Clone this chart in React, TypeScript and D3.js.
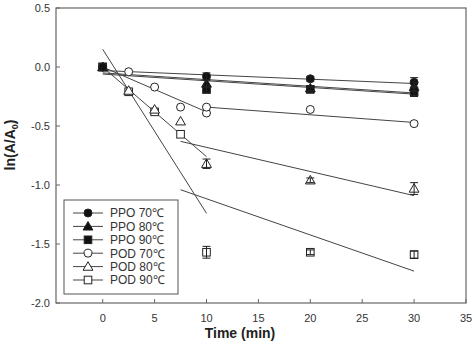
import React, { useEffect, useRef } from 'react';
import * as d3 from 'd3';

// PPO measured at 0,10,20,30 min
const ppoTime = [0, 10, 20, 30];
const ppo70 = [0, -0.08, -0.1, -0.13];
const ppo80 = [0, -0.14, -0.18, -0.17];
const ppo90 = [0, -0.19, -0.19, -0.21];
const ppoErr = [0, 0.03, 0.02, 0.04];

// POD measured more often early on
const podTime = [0, 2.5, 5, 7.5, 10, 20, 30];
const pod70 = [0, -0.04, -0.17, -0.34, -0.39, -0.36, -0.48];
const pod70Extra = { t: 10, v: -0.34 };
const pod80 = [0, -0.2, -0.36, -0.46, -0.82, -0.96, -1.03];
const pod80Err = [0, 0, 0, 0, 0.04, 0.02, 0.05];
const pod90 = [0, -0.21, -0.38, -0.57, -1.57, -1.57, -1.59];
const pod90Err = [0, 0, 0, 0, 0.05, 0.02, 0.03];

// regression lines [t1, v1, t2, v2]
const fitLines = [
  [0, -0.03, 30, -0.14],
  [0, -0.05, 30, -0.22],
  [0, -0.06, 30, -0.23],
  [0, 0, 10, -0.38],
  [10, -0.34, 30, -0.47],
  [0, 0, 10, -0.76],
  [7.5, -0.63, 30, -1.09],
  [0, 0.15, 10, -1.24],
  [7.5, -1.04, 30, -1.73],
];

const xTicks = [0, 5, 10, 15, 20, 25, 30, 35];
const yTicks = [0.5, 0, -0.5, -1, -1.5, -2];
const yTickLabels = ['0.5', '0.0', '-0.5', '-1.0', '-1.5', '-2.0'];
const legendLabels = ['PPO 70℃', 'PPO 80℃', 'PPO 90℃', 'POD 70℃', 'POD 80℃', 'POD 90℃'];
const legendShapes = ['circle', 'triangle', 'square', 'circle', 'triangle', 'square'];
const legendFilled = [true, true, true, false, false, false];

const App: React.FC = () => {
  const svgRef = useRef<SVGSVGElement>(null);

  useEffect(() => {
    if (!svgRef.current) return;
    const svg = d3.select(svgRef.current);
    svg.selectAll('*').remove();

    const x = d3.scaleLinear().domain([-4.5, 35]).range([56, 466]);
    const y = d3.scaleLinear().domain([-2, 0.5]).range([303, 8]);
    const ink = '#333';
    const font = 'Arial, "Liberation Sans", sans-serif';

    // frame
    svg.append('rect')
      .attr('x', x(-4.5)).attr('y', y(0.5))
      .attr('width', x(35) - x(-4.5)).attr('height', y(-2) - y(0.5))
      .attr('fill', 'none').attr('stroke', '#666').attr('stroke-width', 1.2);

    // x ticks
    xTicks.forEach(t => {
      svg.append('line')
        .attr('x1', x(t)).attr('x2', x(t)).attr('y1', y(-2)).attr('y2', y(-2) - 4)
        .attr('stroke', '#666');
      svg.append('text')
        .attr('x', x(t)).attr('y', 322).attr('text-anchor', 'middle')
        .attr('font-family', font).attr('font-size', 11).attr('fill', ink)
        .text(String(t));
    });

    yTicks.forEach((v, i) => {
      svg.append('line')
        .attr('x1', x(-4.5)).attr('x2', x(-4.5) + 4).attr('y1', y(v)).attr('y2', y(v))
        .attr('stroke', '#666');
      svg.append('text')
        .attr('x', 50).attr('y', y(v) + 4).attr('text-anchor', 'end')
        .attr('font-family', font).attr('font-size', 11).attr('fill', ink)
        .text(yTickLabels[i]);
    });

    // axis titles
    svg.append('text')
      .attr('x', 240).attr('y', 338).attr('text-anchor', 'middle')
      .attr('font-family', font).attr('font-size', 14).attr('font-weight', 'bold').attr('fill', '#222')
      .text('Time (min)');

    const yl = svg.append('text')
      .attr('transform', 'translate(15,145) rotate(-90)')
      .attr('text-anchor', 'middle')
      .attr('font-family', font).attr('font-size', 14).attr('font-weight', 'bold').attr('fill', '#222');
    yl.append('tspan').text('ln(A/A');
    yl.append('tspan').attr('font-size', 9).attr('dy', 3).text('0');
    yl.append('tspan').attr('dy', -3).text(')');

    // fit lines
    fitLines.forEach(([t1, v1, t2, v2]) => {
      svg.append('line')
        .attr('x1', x(t1)).attr('y1', y(v1)).attr('x2', x(t2)).attr('y2', y(v2))
        .attr('stroke', '#444').attr('stroke-width', 1);
    });

    const drawMarker = (g: any, shape: string, cx: number, cy: number, filled: boolean) => {
      const fill = filled ? '#111' : '#fff';
      if (shape === 'circle') {
        g.append('circle').attr('cx', cx).attr('cy', cy).attr('r', 4)
          .attr('fill', fill).attr('stroke', '#222').attr('stroke-width', 1);
      } else if (shape === 'square') {
        g.append('rect').attr('x', cx - 3.8).attr('y', cy - 3.8).attr('width', 7.6).attr('height', 7.6)
          .attr('fill', fill).attr('stroke', '#222').attr('stroke-width', 1);
      } else {
        const s = d3.symbol().type(d3.symbolTriangle).size(42);
        g.append('path').attr('d', s()).attr('transform', `translate(${cx},${cy + 0.8})`)
          .attr('fill', fill).attr('stroke', '#222').attr('stroke-width', 1);
      }
    };

    const drawErr = (t: number, v: number, e: number) => {
      if (!e) return;
      const g = svg.append('g').attr('stroke', '#222').attr('stroke-width', 1);
      g.append('line').attr('x1', x(t)).attr('x2', x(t)).attr('y1', y(v + e)).attr('y2', y(v - e));
      g.append('line').attr('x1', x(t) - 4).attr('x2', x(t) + 4).attr('y1', y(v + e)).attr('y2', y(v + e));
      g.append('line').attr('x1', x(t) - 4).attr('x2', x(t) + 4).attr('y1', y(v - e)).attr('y2', y(v - e));
    };

    const pts = svg.append('g');
    const series = [
      { t: podTime, v: pod90, e: pod90Err, shape: 'square', filled: false },
      { t: podTime, v: pod80, e: pod80Err, shape: 'triangle', filled: false },
      { t: podTime, v: pod70, e: podTime.map(() => 0), shape: 'circle', filled: false },
      { t: ppoTime, v: ppo90, e: ppoErr, shape: 'square', filled: true },
      { t: ppoTime, v: ppo80, e: ppoErr, shape: 'triangle', filled: true },
      { t: ppoTime, v: ppo70, e: ppoErr, shape: 'circle', filled: true },
    ];
    series.forEach(s => {
      s.t.forEach((t, i) => {
        drawErr(t, s.v[i], s.e[i]);
        drawMarker(pts, s.shape, x(t), y(s.v[i]), s.filled);
      });
    });
    drawMarker(pts, 'circle', x(pod70Extra.t), y(pod70Extra.v), false);

    // legend
    const lg = svg.append('g');
    lg.append('rect').attr('x', 64).attr('y', 200).attr('width', 114).attr('height', 94)
      .attr('fill', '#fff').attr('stroke', '#555').attr('stroke-width', 1);
    legendLabels.forEach((lab, i) => {
      const ly = 213 + i * 13.4;
      lg.append('line').attr('x1', 73).attr('x2', 103).attr('y1', ly).attr('y2', ly)
        .attr('stroke', '#444');
      drawMarker(lg, legendShapes[i], 88, ly, legendFilled[i]);
      lg.append('text').attr('x', 110).attr('y', ly + 4.3)
        .attr('font-family', font).attr('font-size', 12).attr('fill', ink)
        .text(lab);
    });
  }, []);

  return (
    <div style={{ position: 'absolute', left: 0, top: 0 }}>
      <svg ref={svgRef} width={473} height={353} style={{ display: 'block', background: '#fff' }} />
    </div>
  );
};

export default App;
